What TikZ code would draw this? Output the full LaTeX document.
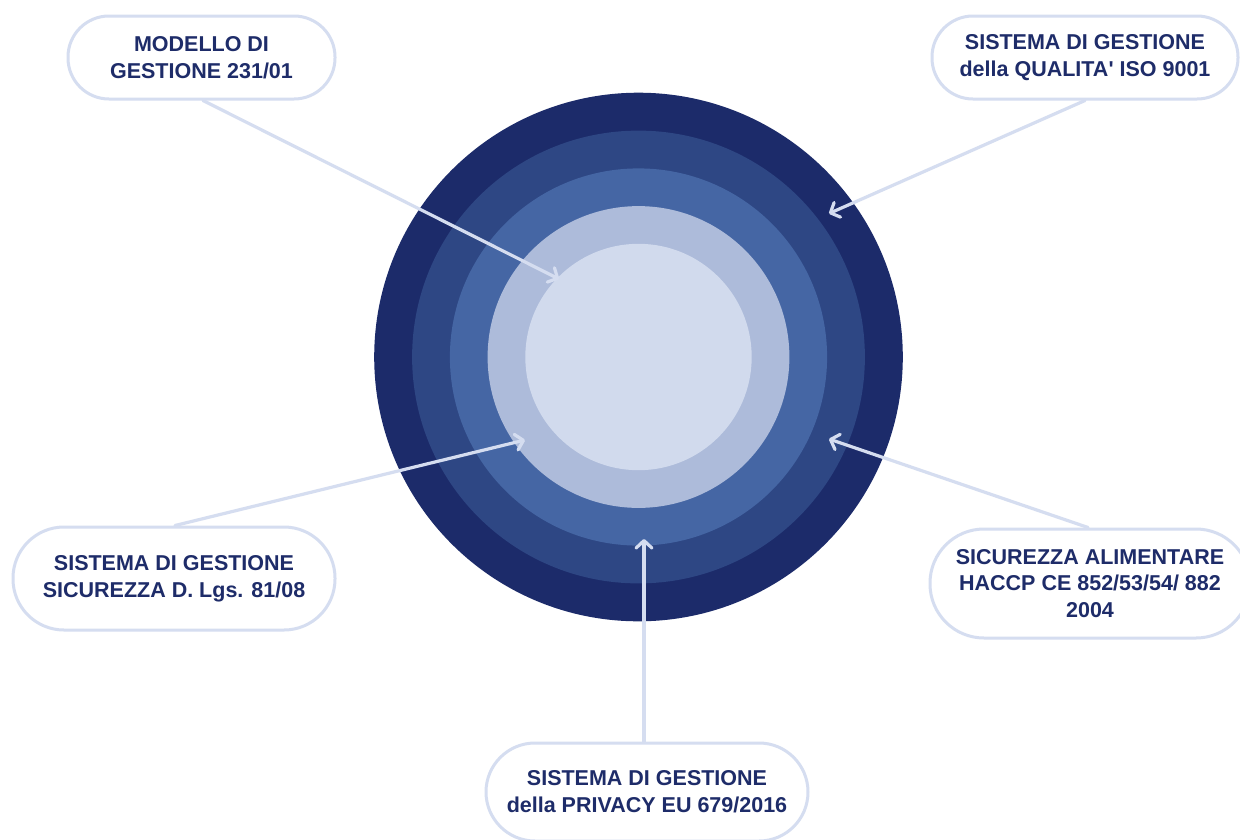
\documentclass[tikz,border=0pt]{standalone}
\usepackage{fontspec}
\setmainfont{Liberation Sans}[Ligatures=TeXOff]
\usetikzlibrary{arrows.meta}
\definecolor{ringA}{HTML}{1C2B6A}
\definecolor{ringB}{HTML}{2E4784}
\definecolor{ringC}{HTML}{4566A4}
\definecolor{ringD}{HTML}{ADBBDA}
\definecolor{ringE}{HTML}{D1DAED}
\definecolor{boxline}{HTML}{D5DDF0}
\definecolor{txt}{HTML}{1E2C69}
\tikzset{
  labelbox/.style={draw=boxline, line width=3pt, fill=white, align=center,
    text=txt, font=\fontsize{21.5}{26.7}\selectfont\bfseries, inner sep=0pt},
  pointer/.style={draw=boxline, line width=3.2pt, line cap=round,
    -{Straight Barb[length=7.5pt,width=16pt,line cap=round,line join=round]}}
}
\begin{document}
\begin{tikzpicture}[x=1pt,y=-1pt]
\useasboundingbox (0,0) rectangle (1240,839);
\fill[white] (0,0) rectangle (1240,839);
% rings
\coordinate (c) at (638.5,357);
\fill[ringA] (c) circle[radius=264.3];
\fill[ringB] (c) circle[radius=226.4];
\fill[ringC] (c) circle[radius=188.6];
\fill[ringD] (c) circle[radius=150.9];
\fill[ringE] (c) circle[radius=113.2];
% boxes
\node[labelbox, minimum width=267pt, minimum height=83pt, rounded corners=41pt] (b1) at (201.5,57.5) {MODELLO DI\\GESTIONE 231/01};
\node[labelbox, minimum width=306pt, minimum height=83pt, rounded corners=41pt] (b2) at (1085,57.5) {SISTEMA DI GESTIONE\\della QUALITA' ISO 9001};
\node[labelbox, minimum width=322pt, minimum height=103pt, rounded corners=51pt] (b4) at (174,578.5) {SISTEMA DI GESTIONE\\SICUREZZA D. Lgs. 81/08};
\node[labelbox, minimum width=320pt, minimum height=109pt, rounded corners=54pt] (b3) at (1090,583.5) {SICUREZZA ALIMENTARE\\HACCP CE 852/53/54/ 882\\2004};
\node[labelbox, minimum width=322pt, minimum height=98pt, rounded corners=49pt] (b5) at (647,792) {SISTEMA DI GESTIONE\\della PRIVACY EU 679/2016};
% arrow tips
\coordinate (t1) at (559,279);
\coordinate (t2) at (829,213.5);
\coordinate (t4) at (525,440);
\coordinate (t5) at (644,539);
\coordinate (t3) at (829,439);
\draw[pointer] ([xshift=1.5pt]b1.south) -- (t1);
\draw[pointer] (b2.south) -- (t2);
\draw[pointer] ([xshift=1pt]b4.north) -- (t4);
\draw[pointer] ([xshift=-3pt]b5.north) -- (t5);
\draw[pointer] ([xshift=-2pt]b3.north) -- (t3);
\end{tikzpicture}
\end{document}
